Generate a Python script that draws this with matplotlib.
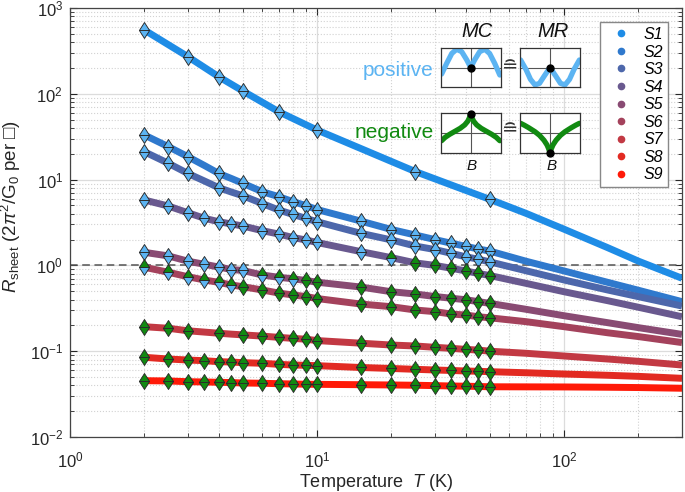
import numpy as np
import matplotlib
matplotlib.use('Agg')
import matplotlib.pyplot as plt
from matplotlib.path import Path
from matplotlib.lines import Line2D

plt.rcParams['font.family'] = ['Liberation Sans', 'DejaVu Sans']
plt.rcParams['mathtext.fontset'] = 'custom'
plt.rcParams['mathtext.rm'] = 'Liberation Sans'
plt.rcParams['mathtext.it'] = 'Liberation Sans:italic'
plt.rcParams['mathtext.bf'] = 'Liberation Sans:bold'
plt.rcParams['mathtext.fallback'] = 'stixsans'

# ---------------- data ----------------
series_names = ['S1', 'S2', 'S3', 'S4', 'S5', 'S6', 'S7', 'S8', 'S9']

T_s1 = [2, 3, 4, 5, 7, 10, 25, 50, 70, 100, 150, 200, 300]
R_s1 = [554, 271, 158, 108, 61.8, 37.8, 12.4, 5.89, 4.05, 2.64, 1.61, 1.12, 0.708]

T_grid = [2, 2.5, 3, 3.5, 4, 4.5, 5, 6, 7, 8, 9, 10, 15, 20, 25, 30, 35, 40, 45, 50,
          70, 100, 150, 200, 300]
R_s2 = [33.1, 24.2, 18.5, 14.6, 11.8, 10.3, 9.06, 7.23, 6.32, 5.53, 4.99, 4.48, 3.29, 2.62,
        2.26, 2.00, 1.81, 1.67, 1.55, 1.47, 1.12, 0.861, 0.635, 0.513, 0.378]
R_s3 = [21.1, 15.5, 11.8, 9.63, 8.05, 7.16, 6.49, 5.26, 4.42, 3.92, 3.54, 3.23, 2.37, 1.98,
        1.68, 1.53, 1.38, 1.26, 1.18, 1.10, 0.867, 0.676, 0.517, 0.432, 0.336]
R_s4 = [5.78, 4.92, 4.11, 3.54, 3.23, 3.04, 2.88, 2.54, 2.32, 2.11, 1.98, 1.85, 1.45, 1.23,
        1.07, 1.00, 0.925, 0.861, 0.805, 0.762, 0.618, 0.493, 0.388, 0.325, 0.252]
R_s5 = [1.42, 1.29, 1.12, 1.03, 0.957, 0.895, 0.873, 0.773, 0.726, 0.698, 0.667, 0.637, 0.560,
        0.493, 0.464, 0.434, 0.414, 0.398, 0.378, 0.361, 0.308, 0.259, 0.215, 0.188, 0.157]
R_s6 = [0.951, 0.832, 0.738, 0.676, 0.635, 0.591, 0.565, 0.517, 0.476, 0.452, 0.434, 0.411,
        0.355, 0.330, 0.302, 0.289, 0.271, 0.264, 0.252, 0.245, 0.221, 0.193, 0.164, 0.148, 0.126]
R_s7 = [0.193, 0.185, 0.173, 0.167, 0.162, 0.158, 0.155, 0.150, 0.145, 0.141, 0.138, 0.133,
        0.124, 0.118, 0.115, 0.111, 0.108, 0.105, 0.103, 0.100, 0.0946, 0.0879, 0.0811, 0.0762, 0.0690]
R_s8 = [0.0849, 0.0811, 0.0789, 0.0775, 0.0755, 0.0748, 0.0735, 0.0723, 0.0703, 0.0690, 0.0685,
        0.0678, 0.0646, 0.0629, 0.0615, 0.0604, 0.0596, 0.0588, 0.0583, 0.0577, 0.0561, 0.0542,
        0.0524, 0.0509, 0.0483]
R_s9 = [0.0453, 0.0450, 0.0441, 0.0438, 0.0434, 0.0431, 0.0426, 0.0423, 0.0418, 0.0415, 0.0412,
        0.0411, 0.0407, 0.0404, 0.0401, 0.0397, 0.0393, 0.0391, 0.0388, 0.0385, 0.0384, 0.0383,
        0.0380, 0.0377, 0.0370]

# marker temperatures
mk_s1 = [2, 3, 4, 5, 7, 10, 25, 50]
mk_full = [2, 2.5, 3, 3.5, 4, 4.5, 5, 6, 7, 8, 9, 10, 15, 20, 25, 30, 35, 40, 45, 50]
mk_skip = [2, 2.5, 3, 4, 5, 6, 7, 8, 9, 10, 15, 20, 25, 30, 35, 40, 45, 50]

# sign of MC for upper / lower half of each marker ('+' positive, '-' negative)
top_s1 = '++++++++';              bot_s1 = '++++++++'
top_s2 = '+' * 18;                bot_s2 = '+' * 18
top_s3 = '+' * 18;                bot_s3 = '+' * 18
top_s4 = '+' * 13 + '-' * 7;      bot_s4 = '+' * 14 + '-' * 6
top_s5 = '+' * 7 + '-' * 13;      bot_s5 = '+' * 10 + '-' * 10
top_s6 = '-' * 20;                bot_s6 = '+' * 6 + '-' * 14
top_s7 = '-' * 18;                bot_s7 = '-' * 18
top_s8 = '-' * 20;                bot_s8 = '-' * 20
top_s9 = '-' * 20;                bot_s9 = '-' * 20

line_colors = ['#1E8CE6', '#2F79CD', '#4D67AB', '#69598F', '#894B73', '#A4425C',
               '#C23943', '#E22A22', '#FF1A08']
pos_color = '#5CB4F2'
neg_color = '#118A11'

# inset schematic curves (box coords -1..1)
mc_pos_x = [-0.97, -0.8, -0.63, -0.47, -0.3, -0.13, 0, 0.13, 0.3, 0.47, 0.63, 0.8, 0.97]
mc_pos_y = [-0.33, 0.21, 0.71, 0.92, 0.8, 0.38, 0.0, 0.38, 0.8, 0.92, 0.71, 0.21, -0.38]
mr_pos_x = [-0.98, -0.8, -0.65, -0.5, -0.35, -0.2, 0, 0.2, 0.35, 0.5, 0.65, 0.8, 0.98]
mr_pos_y = [0.38, -0.1, -0.6, -0.88, -0.8, -0.45, 0.0, -0.45, -0.8, -0.88, -0.6, -0.1, 0.38]
mc_neg_x = [-0.97, -0.85, -0.7, -0.5, -0.35, -0.2, -0.1, -0.05, 0, 0.05, 0.1, 0.2, 0.35, 0.5, 0.7, 0.85, 0.97]
mc_neg_y = [-0.37, -0.2, -0.05, 0.12, 0.25, 0.42, 0.6, 0.75, 0.97, 0.75, 0.6, 0.42, 0.25, 0.12, -0.05, -0.2, -0.37]
mr_neg_x = [-0.98, -0.85, -0.7, -0.5, -0.35, -0.2, -0.1, -0.05, 0, 0.05, 0.1, 0.2, 0.35, 0.5, 0.7, 0.85, 0.98]
mr_neg_y = [0.5, 0.4, 0.27, 0.08, -0.1, -0.35, -0.58, -0.75, -0.97, -0.75, -0.58, -0.35, -0.1, 0.08, 0.27, 0.4, 0.5]

# ---------------- figure ----------------
W, H = 685, 492
fig = plt.figure(figsize=(W / 100, H / 100), dpi=100)

def fx(px):
    return px / W

def fy(py):
    return 1 - py / H

ax = fig.add_axes([fx(70), fy(437), fx(682) - fx(70), fy(8) - fy(437)])
ax.set_xscale('log')
ax.set_yscale('log')
ax.set_xlim(1, 300)
ax.set_ylim(1e-2, 1e3)

ax.grid(which='major', color='#dcdcdc', lw=0.9, ls='-', zorder=0)
ax.grid(which='minor', color='#d2d2d2', lw=0.8, ls=':', zorder=0)
ax.set_axisbelow(True)

ax.axhline(1.0, color='#555555', lw=1.1, ls=(0, (5, 3)), zorder=1)

all_T = [T_s1] + [T_grid] * 8
all_R = [R_s1, R_s2, R_s3, R_s4, R_s5, R_s6, R_s7, R_s8, R_s9]
all_mk = [mk_s1, mk_skip, mk_skip, mk_full, mk_full, mk_full, mk_skip, mk_full, mk_full]
all_top = [top_s1, top_s2, top_s3, top_s4, top_s5, top_s6, top_s7, top_s8, top_s9]
all_bot = [bot_s1, bot_s2, bot_s3, bot_s4, bot_s5, bot_s6, bot_s7, bot_s8, bot_s9]

for i in range(9):
    ax.plot(all_T[i], all_R[i], color=line_colors[i], lw=5.0, solid_capstyle='butt',
            zorder=2 + i * 0.01)

hw = 0.64
up_path = Path([(-hw, 0), (hw, 0), (0, 1), (-hw, 0)],
               [Path.MOVETO, Path.LINETO, Path.LINETO, Path.CLOSEPOLY])
dn_path = Path([(-hw, 0), (hw, 0), (0, -1), (-hw, 0)],
               [Path.MOVETO, Path.LINETO, Path.LINETO, Path.CLOSEPOLY])

ms = 11.5
for i in range(9):
    lookup = dict(zip(all_T[i], all_R[i]))
    for path, signs in ((dn_path, all_bot[i]), (up_path, all_top[i])):
        for s, col in (('+', pos_color), ('-', neg_color)):
            xs = [t for t, c in zip(all_mk[i], signs) if c == s]
            ys = [lookup[t] for t in xs]
            if xs:
                ax.plot(xs, ys, ls='none', marker=path, ms=ms, mfc=col,
                        mec='#2a2a2a', mew=0.65, zorder=5 + i * 0.01)

ax.tick_params(which='both', direction='in', top=True, right=True, colors='#262626',
               labelsize=12)
ax.tick_params(which='major', length=5, width=0.8)
ax.tick_params(which='minor', length=3, width=0.6)
ax.tick_params(axis='x', which='major', pad=10)
ax.tick_params(axis='y', which='major', pad=5)
for sp in ax.spines.values():
    sp.set_color('#444444')
    sp.set_linewidth(0.9)

ax.set_xlabel('Temperature  $T$ (K)', fontsize=13, color='#262626', labelpad=1)
ax.set_ylabel(r'$R_{\mathrm{sheet}}$ (2$\pi^2$/G$_0$ per □)', fontsize=13.5, color='#262626')
ax.yaxis.set_label_coords(-0.077, 0.538)

handles = [Line2D([], [], ls='none', marker='o', ms=4.5, color=line_colors[i])
           for i in range(9)]
leg = ax.legend(handles, series_names, loc='upper right', bbox_to_anchor=(0.977, 0.967),
                prop={'style': 'italic', 'size': 11.5}, frameon=True, fancybox=False,
                edgecolor='#888888', framealpha=1, labelspacing=0.16, handlelength=2.1,
                handletextpad=0.35, borderpad=0.3, borderaxespad=0)
leg.get_frame().set_linewidth(1.0)

# ---------------- inset schematic ----------------
def box(x0, y0, x1, y1, xs, ys, col, dot):
    a = fig.add_axes([fx(x0), fy(y1), fx(x1) - fx(x0), fy(y0) - fy(y1)])
    a.set_xlim(-1, 1)
    a.set_ylim(-1, 1)
    a.set_xticks([])
    a.set_yticks([])
    for sp in a.spines.values():
        sp.set_color('#333333')
        sp.set_linewidth(0.9)
    a.axhline(0, color='#555555', lw=0.8)
    a.axvline(0, color='#555555', lw=0.8)
    a.plot(xs, ys, color=col, lw=3.8, solid_capstyle='round', solid_joinstyle='round')
    a.plot([0], [dot], 'o', color='black', ms=5, clip_on=False, zorder=5)
    return a

box(440.7, 47.7, 500.7, 87.3, mc_pos_x, mc_pos_y, pos_color, 0.0)
box(520, 47.7, 580, 87.3, mr_pos_x, mr_pos_y, pos_color, 0.0)
box(440.7, 113.3, 500.7, 153.3, mc_neg_x, mc_neg_y, neg_color, 0.97)
box(520, 113.3, 580, 153.3, mr_neg_x, mr_neg_y, neg_color, -0.97)

fig.text(fx(476.7), fy(31.5), 'MC', fontsize=14.5, style='italic', ha='center', va='center',
         color='#111111')
fig.text(fx(553.3), fy(31.5), 'MR', fontsize=14.5, style='italic', ha='center', va='center',
         color='#111111')
fig.text(fx(433), fy(71), 'positive', fontsize=15, ha='right', va='center', color=pos_color)
fig.text(fx(434), fy(132), 'negative', fontsize=15, ha='right', va='center', color=neg_color)
fig.text(fx(510.5), fy(67), '≘', fontsize=14, ha='center', va='center', color='#333333',
         family=['DejaVu Sans'])
fig.text(fx(510.5), fy(130), '≘', fontsize=14, ha='center', va='center', color='#333333',
         family=['DejaVu Sans'])
fig.text(fx(471.7), fy(166.5), 'B', fontsize=11, style='italic', ha='center', va='center',
         color='#111111')
fig.text(fx(551.7), fy(166.5), 'B', fontsize=11, style='italic', ha='center', va='center',
         color='#111111')

fig.savefig('out.png', dpi=100)
